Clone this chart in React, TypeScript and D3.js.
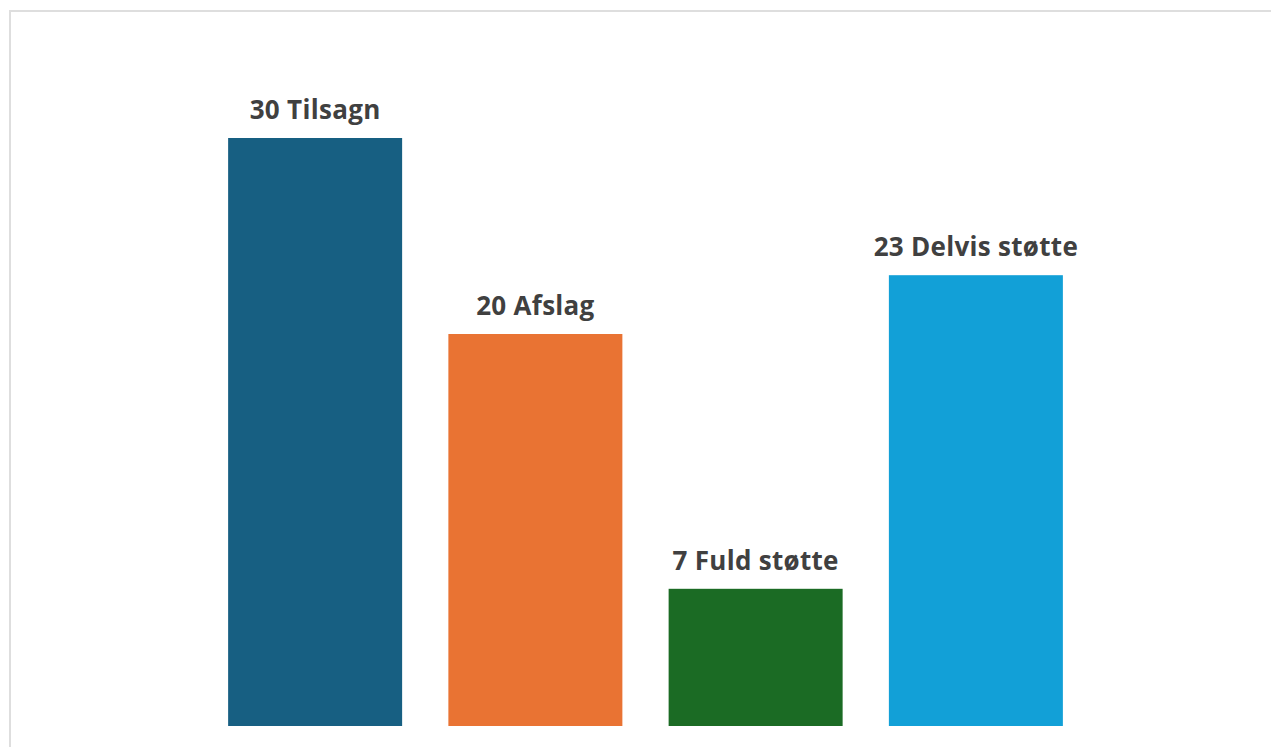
import React from "react";
import * as d3 from "d3";

const categories = ["Tilsagn", "Afslag", "Fuld støtte", "Delvis støtte"];
const values = [30, 20, 7, 23];
const colors = ["#175f82", "#e97333", "#1b6b24", "#12a0d7"];

const W = 1271;
const H = 747;

export default function App() {
  const x = d3
    .scaleBand<string>()
    .domain(categories)
    .range([205, 1086])
    .paddingInner(0.21)
    .paddingOuter(0.105);
  const y = d3.scaleLinear().domain([0, 30]).range([726, 138]);

  return (
    <svg
      width={W}
      height={H}
      style={{ position: "absolute", left: 0, top: 0, background: "#fff" }}
      fontFamily="'Open Sans', sans-serif"
    >
      <rect x={10} y={11} width={1300} height={800} fill="#fff" stroke="#dedede" strokeWidth={2} />
      {categories.map((c, i) => {
        const bx = x(c) as number;
        return (
          <g key={c}>
            <rect x={bx} y={y(values[i])} width={x.bandwidth()} height={y(0) - y(values[i])} fill={colors[i]} />
            <text
              x={bx + x.bandwidth() / 2}
              y={y(values[i]) - 19}
              textAnchor="middle"
              fontSize={26}
              fontWeight={700}
              letterSpacing={0.3}
              fill="#404040"
            >
              {`${values[i]} ${c}`}
            </text>
          </g>
        );
      })}
    </svg>
  );
}
